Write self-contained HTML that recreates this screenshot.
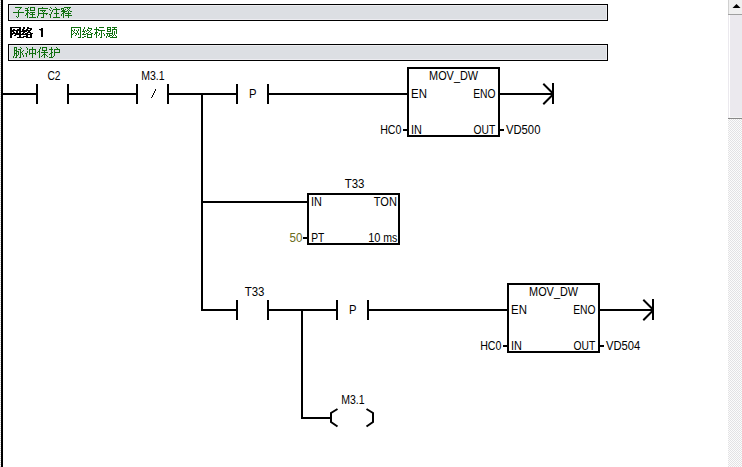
<!DOCTYPE html>
<html><head><meta charset="utf-8"><style>
html,body{margin:0;padding:0;background:#fff;overflow:hidden}
svg{display:block}
text{font-family:"Liberation Sans",sans-serif}
</style></head><body>
<svg width="742" height="467" viewBox="0 0 742 467" shape-rendering="crispEdges">
<defs>
<pattern id="chk" width="2" height="2" patternUnits="userSpaceOnUse"><rect width="2" height="2" fill="#fcfcfc"/><rect width="1" height="1" fill="#e2e2e4"/><rect x="1" y="1" width="1" height="1" fill="#e2e2e4"/></pattern>
<pattern id="dot" width="1" height="2" patternUnits="userSpaceOnUse"><rect width="1" height="2" fill="#fff"/><rect width="1" height="1" fill="#d0d0d0"/></pattern>
</defs>
<rect width="742" height="467" fill="#fff"/>
<rect x="728" y="0" width="14" height="467" fill="url(#chk)"/><rect x="728" y="0" width="14" height="14" fill="#f0f0f0"/><rect x="728" y="0" width="1" height="118" fill="#d0d0d0"/><polygon points="732.5,8 740.5,8 736.5,4" fill="#000" shape-rendering="auto"/><rect x="728" y="14" width="14" height="1" fill="#a0a0a0"/><rect x="728" y="15" width="14" height="104" fill="#ebe9ee"/><rect x="729" y="15" width="1" height="103" fill="#ffffff"/><rect x="729" y="117" width="13" height="1" fill="#f4f4f4"/><rect x="728" y="118" width="14" height="1" fill="#888888"/>
<rect x="0" y="0" width="1" height="467" fill="url(#dot)"/><rect x="1" y="0" width="2" height="467" fill="#000"/><rect x="8" y="4" width="600" height="17" fill="#000"/><rect x="9" y="5" width="598" height="15" fill="#ececf0"/><rect x="10" y="6" width="596" height="13" fill="#dcdfe3"/><path d="M15 7h7v1h-7zM28 7h1v1h-1zM30 7h5v1h-5zM42 7h1v1h-1zM50 7h1v1h-1zM55 7h1v1h-1zM64 7h7v1h-7zM20 8h1v1h-1zM25 8h3v1h-3zM30 8h1v1h-1zM34 8h1v1h-1zM38 8h10v1h-10zM51 8h1v1h-1zM56 8h1v1h-1zM61 8h3v1h-3zM67 8h1v1h-1zM69 8h1v1h-1zM19 9h1v1h-1zM27 9h1v1h-1zM30 9h1v1h-1zM34 9h1v1h-1zM38 9h1v1h-1zM49 9h1v1h-1zM53 9h7v1h-7zM61 9h1v1h-1zM63 9h1v1h-1zM65 9h1v1h-1zM68 9h1v1h-1zM18 10h1v1h-1zM25 10h4v1h-4zM30 10h5v1h-5zM38 10h1v1h-1zM40 10h6v1h-6zM50 10h1v1h-1zM52 10h1v1h-1zM56 10h1v1h-1zM62 10h3v1h-3zM67 10h1v1h-1zM69 10h1v1h-1zM18 11h1v1h-1zM27 11h1v1h-1zM38 11h1v1h-1zM42 11h1v1h-1zM44 11h1v1h-1zM52 11h1v1h-1zM56 11h1v1h-1zM61 11h6v1h-6zM68 11h1v1h-1zM70 11h2v1h-2zM13 12h11v1h-11zM27 12h2v1h-2zM30 12h5v1h-5zM38 12h1v1h-1zM43 12h1v1h-1zM51 12h1v1h-1zM56 12h1v1h-1zM63 12h2v1h-2zM68 12h1v1h-1zM18 13h1v1h-1zM26 13h2v1h-2zM29 13h1v1h-1zM32 13h1v1h-1zM38 13h10v1h-10zM51 13h1v1h-1zM54 13h5v1h-5zM62 13h2v1h-2zM65 13h6v1h-6zM18 14h1v1h-1zM26 14h2v1h-2zM30 14h5v1h-5zM38 14h1v1h-1zM43 14h1v1h-1zM46 14h1v1h-1zM49 14h2v1h-2zM56 14h1v1h-1zM61 14h1v1h-1zM63 14h1v1h-1zM68 14h1v1h-1zM18 15h1v1h-1zM25 15h1v1h-1zM27 15h1v1h-1zM32 15h1v1h-1zM38 15h1v1h-1zM43 15h1v1h-1zM50 15h1v1h-1zM56 15h1v1h-1zM61 15h1v1h-1zM63 15h1v1h-1zM65 15h7v1h-7zM16 16h1v1h-1zM18 16h1v1h-1zM27 16h1v1h-1zM32 16h1v1h-1zM37 16h1v1h-1zM43 16h1v1h-1zM50 16h1v1h-1zM56 16h1v1h-1zM63 16h1v1h-1zM68 16h1v1h-1zM17 17h1v1h-1zM27 17h1v1h-1zM29 17h7v1h-7zM37 17h1v1h-1zM41 17h3v1h-3zM50 17h1v1h-1zM53 17h7v1h-7zM63 17h1v1h-1zM68 17h1v1h-1z" fill="#107010"/><rect x="8" y="44" width="600" height="17" fill="#000"/><rect x="9" y="45" width="598" height="15" fill="#ececf0"/><rect x="10" y="46" width="596" height="13" fill="#dcdfe3"/><path d="M14 47h3v1h-3zM20 47h1v1h-1zM26 47h1v1h-1zM32 47h1v1h-1zM40 47h1v1h-1zM42 47h5v1h-5zM51 47h1v1h-1zM56 47h1v1h-1zM14 48h1v1h-1zM16 48h1v1h-1zM21 48h1v1h-1zM27 48h1v1h-1zM32 48h1v1h-1zM40 48h1v1h-1zM42 48h1v1h-1zM46 48h1v1h-1zM51 48h1v1h-1zM57 48h1v1h-1zM14 49h1v1h-1zM16 49h1v1h-1zM18 49h3v1h-3zM27 49h1v1h-1zM29 49h7v1h-7zM39 49h1v1h-1zM42 49h1v1h-1zM46 49h1v1h-1zM49 49h4v1h-4zM54 49h6v1h-6zM14 50h3v1h-3zM20 50h1v1h-1zM23 50h1v1h-1zM29 50h1v1h-1zM32 50h1v1h-1zM35 50h1v1h-1zM39 50h1v1h-1zM42 50h5v1h-5zM51 50h1v1h-1zM54 50h1v1h-1zM59 50h1v1h-1zM14 51h1v1h-1zM16 51h3v1h-3zM20 51h1v1h-1zM22 51h1v1h-1zM27 51h1v1h-1zM29 51h1v1h-1zM32 51h1v1h-1zM35 51h1v1h-1zM38 51h2v1h-2zM44 51h1v1h-1zM51 51h1v1h-1zM54 51h1v1h-1zM59 51h1v1h-1zM14 52h1v1h-1zM16 52h1v1h-1zM18 52h1v1h-1zM20 52h2v1h-2zM27 52h1v1h-1zM29 52h1v1h-1zM32 52h1v1h-1zM35 52h1v1h-1zM37 52h1v1h-1zM39 52h1v1h-1zM41 52h7v1h-7zM51 52h2v1h-2zM54 52h6v1h-6zM14 53h3v1h-3zM18 53h1v1h-1zM20 53h1v1h-1zM22 53h1v1h-1zM25 53h2v1h-2zM29 53h7v1h-7zM39 53h1v1h-1zM44 53h1v1h-1zM50 53h2v1h-2zM54 53h1v1h-1zM14 54h1v1h-1zM16 54h1v1h-1zM18 54h1v1h-1zM20 54h1v1h-1zM22 54h1v1h-1zM26 54h1v1h-1zM29 54h1v1h-1zM32 54h1v1h-1zM35 54h1v1h-1zM39 54h1v1h-1zM43 54h3v1h-3zM49 54h1v1h-1zM51 54h1v1h-1zM54 54h1v1h-1zM14 55h1v1h-1zM16 55h2v1h-2zM20 55h1v1h-1zM23 55h1v1h-1zM26 55h1v1h-1zM32 55h1v1h-1zM39 55h1v1h-1zM42 55h1v1h-1zM44 55h1v1h-1zM46 55h1v1h-1zM51 55h1v1h-1zM54 55h1v1h-1zM13 56h1v1h-1zM16 56h1v1h-1zM20 56h1v1h-1zM23 56h1v1h-1zM26 56h1v1h-1zM32 56h1v1h-1zM39 56h1v1h-1zM41 56h1v1h-1zM44 56h1v1h-1zM47 56h1v1h-1zM51 56h1v1h-1zM53 56h1v1h-1zM13 57h1v1h-1zM15 57h2v1h-2zM19 57h2v1h-2zM32 57h1v1h-1zM39 57h1v1h-1zM44 57h1v1h-1zM49 57h4v1h-4z" fill="#107010"/><path d="M10 27h11v1h-11zM23 27h2v1h-2zM27 27h2v1h-2zM10 28h2v1h-2zM19 28h2v1h-2zM23 28h2v1h-2zM27 28h5v1h-5zM10 29h2v1h-2zM13 29h2v1h-2zM17 29h4v1h-4zM22 29h2v1h-2zM26 29h2v1h-2zM30 29h2v1h-2zM10 30h11v1h-11zM22 30h9v1h-9zM10 31h4v1h-4zM16 31h2v1h-2zM19 31h8v1h-8zM28 31h2v1h-2zM10 32h2v1h-2zM13 32h2v1h-2zM16 32h2v1h-2zM19 32h2v1h-2zM23 32h2v1h-2zM27 32h4v1h-4zM10 33h11v1h-11zM22 33h2v1h-2zM25 33h3v1h-3zM30 33h3v1h-3zM10 34h3v1h-3zM15 34h17v1h-17zM10 35h2v1h-2zM14 35h2v1h-2zM19 35h2v1h-2zM26 35h2v1h-2zM30 35h2v1h-2zM10 36h2v1h-2zM19 36h2v1h-2zM23 36h5v1h-5zM30 36h2v1h-2zM10 37h2v1h-2zM17 37h7v1h-7zM26 37h6v1h-6z" fill="#000"/><rect x="41" y="28" width="2" height="9" fill="#000"/><rect x="39" y="29" width="2" height="1" fill="#000"/><rect x="40" y="30" width="1" height="1" fill="#888"/><path d="M71 27h10v1h-10zM84 27h1v1h-1zM88 27h1v1h-1zM96 27h1v1h-1zM99 27h5v1h-5zM107 27h4v1h-4zM112 27h5v1h-5zM71 28h1v1h-1zM80 28h1v1h-1zM84 28h1v1h-1zM88 28h4v1h-4zM96 28h1v1h-1zM107 28h1v1h-1zM110 28h1v1h-1zM114 28h1v1h-1zM71 29h1v1h-1zM74 29h1v1h-1zM78 29h1v1h-1zM80 29h1v1h-1zM83 29h1v1h-1zM87 29h1v1h-1zM91 29h1v1h-1zM94 29h5v1h-5zM107 29h4v1h-4zM112 29h5v1h-5zM71 30h2v1h-2zM74 30h1v1h-1zM76 30h1v1h-1zM78 30h1v1h-1zM80 30h1v1h-1zM83 30h1v1h-1zM85 30h1v1h-1zM87 30h2v1h-2zM90 30h1v1h-1zM96 30h1v1h-1zM98 30h7v1h-7zM107 30h1v1h-1zM110 30h1v1h-1zM112 30h1v1h-1zM116 30h1v1h-1zM71 31h1v1h-1zM73 31h1v1h-1zM77 31h1v1h-1zM80 31h1v1h-1zM82 31h3v1h-3zM86 31h1v1h-1zM89 31h1v1h-1zM96 31h1v1h-1zM101 31h1v1h-1zM107 31h4v1h-4zM112 31h1v1h-1zM114 31h1v1h-1zM116 31h1v1h-1zM71 32h1v1h-1zM74 32h1v1h-1zM77 32h1v1h-1zM80 32h1v1h-1zM84 32h1v1h-1zM88 32h1v1h-1zM90 32h1v1h-1zM95 32h3v1h-3zM101 32h1v1h-1zM112 32h1v1h-1zM114 32h1v1h-1zM116 32h1v1h-1zM71 33h1v1h-1zM73 33h1v1h-1zM75 33h2v1h-2zM78 33h1v1h-1zM80 33h1v1h-1zM83 33h1v1h-1zM86 33h2v1h-2zM91 33h2v1h-2zM95 33h2v1h-2zM99 33h1v1h-1zM101 33h1v1h-1zM103 33h1v1h-1zM106 33h7v1h-7zM114 33h1v1h-1zM116 33h1v1h-1zM71 34h2v1h-2zM76 34h1v1h-1zM78 34h1v1h-1zM80 34h1v1h-1zM82 34h4v1h-4zM87 34h5v1h-5zM94 34h1v1h-1zM96 34h1v1h-1zM99 34h1v1h-1zM101 34h1v1h-1zM104 34h1v1h-1zM107 34h1v1h-1zM109 34h1v1h-1zM112 34h1v1h-1zM114 34h1v1h-1zM71 35h1v1h-1zM75 35h1v1h-1zM80 35h1v1h-1zM87 35h1v1h-1zM91 35h1v1h-1zM96 35h1v1h-1zM98 35h1v1h-1zM101 35h1v1h-1zM104 35h1v1h-1zM107 35h1v1h-1zM109 35h3v1h-3zM113 35h1v1h-1zM115 35h1v1h-1zM71 36h1v1h-1zM80 36h1v1h-1zM84 36h2v1h-2zM87 36h1v1h-1zM91 36h1v1h-1zM96 36h1v1h-1zM101 36h1v1h-1zM106 36h1v1h-1zM108 36h2v1h-2zM112 36h1v1h-1zM116 36h1v1h-1zM71 37h1v1h-1zM78 37h3v1h-3zM82 37h2v1h-2zM87 37h5v1h-5zM96 37h1v1h-1zM100 37h2v1h-2zM106 37h1v1h-1zM110 37h7v1h-7z" fill="#107010"/><rect x="1" y="93" width="36" height="2" fill="#000"/><rect x="36" y="84" width="2" height="20" fill="#000"/><rect x="67" y="84" width="2" height="20" fill="#000"/><rect x="67" y="93" width="70" height="2" fill="#000"/><rect x="136" y="84" width="2" height="20" fill="#000"/><rect x="167" y="84" width="2" height="20" fill="#000"/><rect x="155" y="89" width="1" height="2" fill="#000"/><rect x="154" y="91" width="1" height="2" fill="#000"/><rect x="153" y="93" width="1" height="2" fill="#000"/><rect x="152" y="95" width="1" height="2" fill="#000"/><rect x="151" y="97" width="1" height="1" fill="#000"/><rect x="167" y="93" width="70" height="2" fill="#000"/><rect x="236" y="84" width="2" height="20" fill="#000"/><rect x="267" y="84" width="2" height="20" fill="#000"/><rect x="267" y="93" width="141" height="2" fill="#000"/><rect x="407" y="67" width="93" height="2" fill="#000"/><rect x="407" y="135" width="93" height="2" fill="#000"/><rect x="407" y="67" width="2" height="70" fill="#000"/><rect x="498" y="67" width="2" height="70" fill="#000"/><rect x="403" y="129" width="4" height="2" fill="#000"/><rect x="500" y="129" width="4" height="2" fill="#000"/><rect x="499" y="93" width="54" height="2" fill="#000"/><rect x="552" y="83" width="2" height="21" fill="#000"/><path d="M544 84.5L552 92.5M544 103.5L552 95.5" fill="none" stroke="#000" stroke-width="2" stroke-linecap="square" shape-rendering="auto"/><rect x="201" y="93" width="2" height="218" fill="#000"/><rect x="201" y="201" width="107" height="2" fill="#000"/><rect x="307" y="193" width="93" height="2" fill="#000"/><rect x="307" y="243" width="93" height="2" fill="#000"/><rect x="307" y="193" width="2" height="52" fill="#000"/><rect x="398" y="193" width="2" height="52" fill="#000"/><rect x="303" y="237" width="4" height="2" fill="#000"/><rect x="201" y="309" width="36" height="2" fill="#000"/><rect x="236" y="300" width="2" height="20" fill="#000"/><rect x="267" y="300" width="2" height="20" fill="#000"/><rect x="267" y="309" width="70" height="2" fill="#000"/><rect x="336" y="300" width="2" height="20" fill="#000"/><rect x="367" y="300" width="2" height="20" fill="#000"/><rect x="367" y="309" width="141" height="2" fill="#000"/><rect x="507" y="283" width="93" height="2" fill="#000"/><rect x="507" y="351" width="93" height="2" fill="#000"/><rect x="507" y="283" width="2" height="70" fill="#000"/><rect x="598" y="283" width="2" height="70" fill="#000"/><rect x="503" y="345" width="4" height="2" fill="#000"/><rect x="600" y="345" width="4" height="2" fill="#000"/><rect x="599" y="309" width="54" height="2" fill="#000"/><rect x="652" y="299" width="2" height="21" fill="#000"/><path d="M644 300.5L652 308.5M644 319.5L652 311.5" fill="none" stroke="#000" stroke-width="2" stroke-linecap="square" shape-rendering="auto"/><rect x="301" y="309" width="2" height="110" fill="#000"/><rect x="301" y="417" width="31" height="2" fill="#000"/><path d="M337.5 409L331 413V422L337.5 426.5M366.5 409L373 413V422L366.5 426.5" fill="none" stroke="#000" stroke-width="2" shape-rendering="auto"/>
<g shape-rendering="auto"><text x="47.48" y="80" textLength="13.03" lengthAdjust="spacingAndGlyphs" fill="#000" font-size="12">C2</text><text x="141.14" y="80" textLength="23.38" lengthAdjust="spacingAndGlyphs" fill="#000" font-size="12">M3.1</text><text x="249.08" y="98" textLength="7.52" lengthAdjust="spacingAndGlyphs" fill="#000" font-size="12">P</text><text x="429.11" y="80" textLength="48.93" lengthAdjust="spacingAndGlyphs" fill="#000" font-size="12">MOV_DW</text><text x="411.06" y="98" textLength="15.87" lengthAdjust="spacingAndGlyphs" fill="#000" font-size="12">EN</text><text x="473.15" y="98" textLength="22.34" lengthAdjust="spacingAndGlyphs" fill="#000" font-size="12">ENO</text><text x="410.99" y="134" textLength="10.89" lengthAdjust="spacingAndGlyphs" fill="#000" font-size="12">IN</text><text x="473.51" y="134" textLength="21.72" lengthAdjust="spacingAndGlyphs" fill="#000" font-size="12">OUT</text><text x="380.13" y="134" textLength="21.29" lengthAdjust="spacingAndGlyphs" fill="#000" font-size="12">HC0</text><text x="505.95" y="134" textLength="34.49" lengthAdjust="spacingAndGlyphs" fill="#000" font-size="12">VD500</text><text x="344.74" y="188" textLength="19.76" lengthAdjust="spacingAndGlyphs" fill="#000" font-size="12">T33</text><text x="310.99" y="206" textLength="10.89" lengthAdjust="spacingAndGlyphs" fill="#000" font-size="12">IN</text><text x="373.75" y="206" textLength="23.14" lengthAdjust="spacingAndGlyphs" fill="#000" font-size="12">TON</text><text x="311.16" y="242" textLength="13.07" lengthAdjust="spacingAndGlyphs" fill="#000" font-size="12">PT</text><text x="368.16" y="242" textLength="12.27" lengthAdjust="spacingAndGlyphs" fill="#000" font-size="12">10</text><text x="383.30" y="242" textLength="14.08" lengthAdjust="spacingAndGlyphs" fill="#000" font-size="12">ms</text><text x="289.53" y="242" textLength="12.92" lengthAdjust="spacingAndGlyphs" fill="#6b6b20" font-size="12">50</text><text x="244.74" y="296" textLength="19.76" lengthAdjust="spacingAndGlyphs" fill="#000" font-size="12">T33</text><text x="349.08" y="314" textLength="7.52" lengthAdjust="spacingAndGlyphs" fill="#000" font-size="12">P</text><text x="529.11" y="296" textLength="48.93" lengthAdjust="spacingAndGlyphs" fill="#000" font-size="12">MOV_DW</text><text x="511.06" y="314" textLength="15.87" lengthAdjust="spacingAndGlyphs" fill="#000" font-size="12">EN</text><text x="573.15" y="314" textLength="22.34" lengthAdjust="spacingAndGlyphs" fill="#000" font-size="12">ENO</text><text x="510.99" y="350" textLength="10.89" lengthAdjust="spacingAndGlyphs" fill="#000" font-size="12">IN</text><text x="573.51" y="350" textLength="21.72" lengthAdjust="spacingAndGlyphs" fill="#000" font-size="12">OUT</text><text x="480.13" y="350" textLength="21.29" lengthAdjust="spacingAndGlyphs" fill="#000" font-size="12">HC0</text><text x="605.95" y="350" textLength="34.38" lengthAdjust="spacingAndGlyphs" fill="#000" font-size="12">VD504</text><text x="341.14" y="404" textLength="23.38" lengthAdjust="spacingAndGlyphs" fill="#000" font-size="12">M3.1</text></g>
</svg>
</body></html>
